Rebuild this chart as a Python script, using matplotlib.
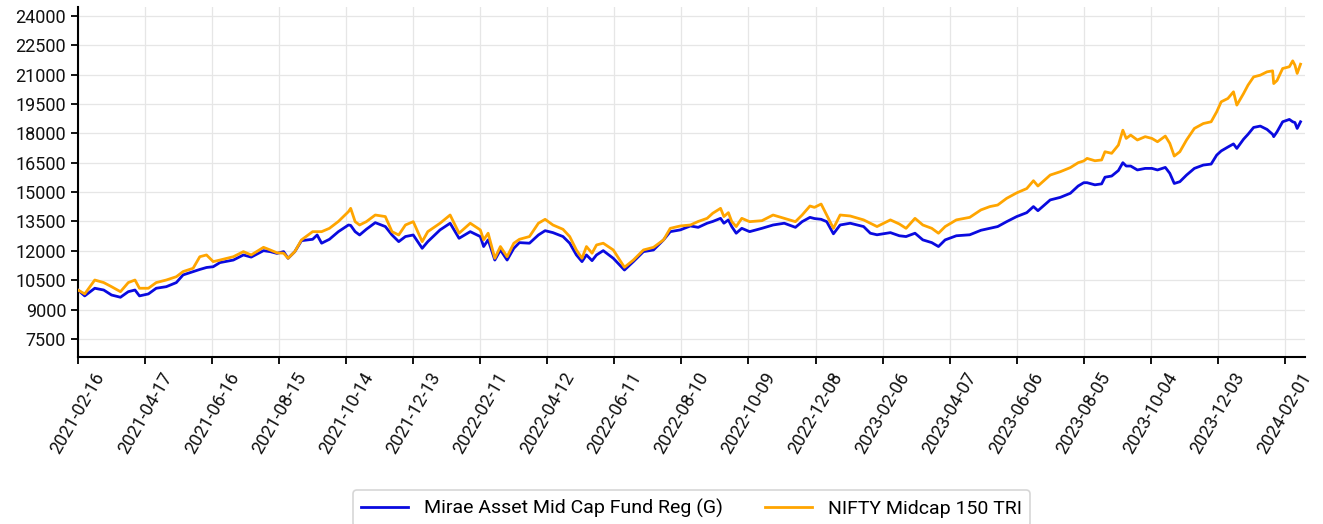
import numpy as np
import matplotlib
matplotlib.use("Agg")
import matplotlib.pyplot as plt

start_date = "2021-02-16"
day_offsets = [0, 6, 15, 23, 30, 38, 45, 51, 55, 63, 70, 79, 88, 94, 103, 109, 115, 121, 127, 139,
               148, 155, 166, 172, 178, 184, 188, 194, 200, 210, 214, 218, 225, 233, 242, 244, 248, 252,
               258, 266, 275, 281, 287, 293, 300, 308, 313, 324, 333, 341, 351, 360, 363, 367, 373, 378,
               384, 390, 395, 404, 412, 418, 425, 434, 440, 446, 451, 455, 460, 464, 470, 479, 489, 497,
               506, 515, 524, 530, 539, 548, 555, 563, 568, 575, 578, 582, 585, 589, 594, 601, 612, 622,
               632, 642, 648, 655, 659, 665, 670, 676, 682, 691, 703, 709, 715, 727, 735, 741, 749, 756,
               764, 770, 776, 786, 798, 808, 816, 823, 831, 840, 849, 855, 859, 870, 879, 888, 895, 900,
               903, 910, 916, 919, 925, 931, 935, 938, 942, 948, 955, 961, 966, 973, 977, 981, 986, 992,
               999, 1007, 1014, 1019, 1023, 1029, 1034, 1037, 1043, 1047, 1052, 1058, 1064, 1069, 1070,
               1073, 1078, 1084, 1087, 1089, 1091, 1094]

mirae = [10000, 9700, 10090, 10000, 9745, 9630, 9915, 10000, 9700, 9800, 10090, 10170, 10380, 10770,
         10940, 11050, 11150, 11190, 11400, 11530, 11790, 11680, 12010, 11960, 11870, 11960, 11620, 11960,
         12520, 12590, 12810, 12390, 12590, 12980, 13320, 13300, 12980, 12810, 13100, 13440, 13240, 12810,
         12470, 12730, 12810, 12130, 12470, 13070, 13410, 12640, 12980, 12730, 12220, 12560, 11530, 12045,
         11530, 12130, 12420, 12390, 12810, 13030, 12930, 12730, 12390, 11790, 11450, 11790, 11500, 11790,
         12010, 11620, 11020, 11450, 11960, 12045, 12560, 12980, 13070, 13270, 13200, 13410, 13500, 13660,
         13410, 13580, 13240, 12900, 13150, 12980, 13150, 13320, 13410, 13200, 13490, 13710, 13650, 13610,
         13490, 12870, 13320, 13410, 13240, 12900, 12820, 12930, 12770, 12730, 12900, 12560, 12420, 12220,
         12560, 12770, 12820, 13050, 13150, 13240, 13490, 13750, 13950, 14260, 14050, 14600, 14730, 14940,
         15310, 15480, 15480, 15370, 15420, 15760, 15820, 16100, 16500, 16330, 16330, 16130, 16210, 16210,
         16130, 16260, 15960, 15440, 15530, 15870, 16210, 16380, 16430, 16890, 17100, 17300, 17460, 17230,
         17700, 17950, 18300, 18370, 18200, 17950, 17830, 18080, 18590, 18710, 18590, 18550, 18250, 18590]

nifty = [10000, 9800, 10510, 10380, 10170, 9915, 10380, 10510, 10090, 10090, 10380, 10510, 10680, 10940,
         11110, 11700, 11790, 11450, 11530, 11700, 11960, 11790, 12180, 12045, 11900, 11880, 11620, 11960,
         12560, 12980, 12980, 12980, 13150, 13500, 14000, 14170, 13490, 13320, 13490, 13830, 13750, 12980,
         12810, 13320, 13490, 12470, 12980, 13410, 13830, 12900, 13410, 13070, 12560, 12900, 11620, 12220,
         11700, 12390, 12590, 12730, 13410, 13610, 13320, 13100, 12730, 12045, 11620, 12220, 11880, 12300,
         12390, 12045, 11160, 11530, 12045, 12180, 12560, 13150, 13270, 13320, 13500, 13660, 13920, 14170,
         13750, 13950, 13500, 13240, 13660, 13490, 13540, 13830, 13660, 13490, 13830, 14290, 14220, 14390,
         13830, 13150, 13830, 13780, 13580, 13410, 13240, 13580, 13370, 13150, 13660, 13320, 13150, 12900,
         13240, 13580, 13710, 14090, 14260, 14340, 14680, 14960, 15180, 15580, 15310, 15870, 16040, 16250,
         16500, 16590, 16720, 16600, 16640, 17060, 16980, 17400, 18160, 17740, 17910, 17660, 17830, 17740,
         17570, 17860, 17490, 16840, 17060, 17660, 18250, 18500, 18590, 19100, 19610, 19780, 20120, 19440,
         20030, 20460, 20880, 20970, 21140, 21190, 20540, 20700, 21310, 21400, 21700, 21480, 21060, 21530]

series_names = ["Mirae Asset Mid Cap Fund Reg (G)", "NIFTY Midcap 150 TRI"]
y_ticks = [7500, 9000, 10500, 12000, 13500, 15000, 16500, 18000, 19500, 21000, 22500, 24000]
tick_step_days = 60
n_xticks = 19

plt.rcParams['font.family'] = ['Roboto', 'DejaVu Sans']

t0 = np.datetime64(start_date)
dates = t0 + np.array(day_offsets).astype('timedelta64[D]')

fig = plt.figure(figsize=(13.23, 5.24), dpi=100)
ax = fig.add_axes([78 / 1323, 1 - 357 / 524, (1305 - 78) / 1323, (357 - 7) / 524])

ax.plot(dates, mirae, color='#0a0adf', lw=2.0, label=series_names[0], zorder=3)
ax.plot(dates, nifty, color='#ffa500', lw=2.0, label=series_names[1], zorder=3)

xt = t0 + (np.arange(n_xticks) * tick_step_days).astype('timedelta64[D]')
ax.set_xticks(xt)
ax.set_xticklabels([str(d) for d in xt], rotation=60, fontsize=13)
ax.set_xlim(t0, t0 + np.timedelta64(1098, 'D'))

ax.set_yticks(y_ticks)
ax.set_yticklabels([str(v) for v in y_ticks], fontsize=13)
ax.set_ylim(6580, 24450)

ax.grid(True, color='#e6e6e6', lw=0.9, zorder=0)
ax.set_axisbelow(True)
for s in ['top', 'right']:
    ax.spines[s].set_visible(False)
for s in ['left', 'bottom']:
    ax.spines[s].set_linewidth(1.5)
    ax.spines[s].set_color('black')
ax.tick_params(axis='both', length=5, width=1.3, color='black', labelcolor='#111111')

leg = ax.legend(loc='upper center', bbox_to_anchor=(0.5, -0.352), ncol=2, fontsize=14,
                frameon=True, edgecolor='#cccccc', fancybox=True, handlelength=2.4,
                columnspacing=2.2, borderpad=0.45)
leg.get_frame().set_linewidth(1.2)

fig.savefig("out.png", dpi=100)
